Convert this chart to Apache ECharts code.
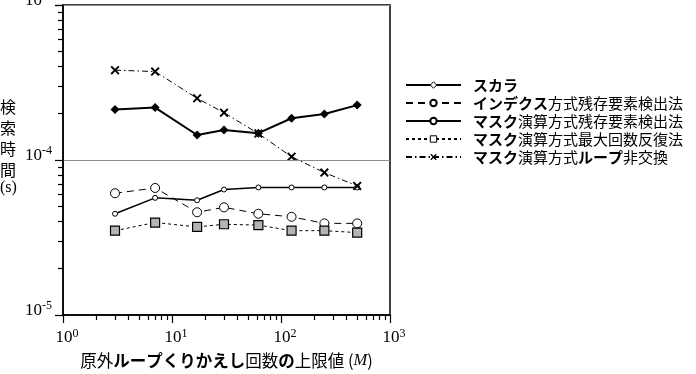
<!DOCTYPE html>
<html>
<head>
<meta charset="utf-8">
<script src="https://cdn.jsdelivr.net/npm/echarts@6/dist/echarts.min.js"></script>
<style>
  html, body { margin: 0; padding: 0; background: #fff; }
  #chart { width: 696px; height: 374px; }
</style>
</head>
<body>
<div id="chart"></div>
<script>
// values (log-log)
const xValues = [3, 7, 17, 30, 62, 125, 250, 500];
const scalar = [2.12e-4, 2.18e-4, 1.45e-4, 1.56e-4, 1.49e-4, 1.86e-4, 1.98e-4, 2.26e-4];
const indexRemain = [6.1e-5, 6.6e-5, 4.6e-5, 4.95e-5, 4.5e-5, 4.3e-5, 3.9e-5, 3.9e-5];
const maskRemain = [4.5e-5, 5.7e-5, 5.5e-5, 6.45e-5, 6.65e-5, 6.65e-5, 6.65e-5, 6.65e-5];
const maskMax = [3.5e-5, 3.95e-5, 3.7e-5, 3.85e-5, 3.8e-5, 3.5e-5, 3.5e-5, 3.4e-5];
const maskNoSwap = [3.8e-4, 3.72e-4, 2.5e-4, 2.02e-4, 1.48e-4, 1.05e-4, 8.3e-5, 6.8e-5];

const seriesNames = [
  'スカラ',
  'インデクス方式残存要素検出法',
  'マスク演算方式残存要素検出法',
  'マスク演算方式最大回数反復法',
  'マスク演算方式ループ非交換'
];

const CJK = "'Noto Sans CJK JP', sans-serif";
const SERIF = "'Liberation Serif', serif";
const X_MARK = 'path://M0,1.5L1.5,0L5,3.5L8.5,0L10,1.5L6.5,5L10,8.5L8.5,10L5,6.5L1.5,10L0,8.5L3.5,5Z';

var myChart = echarts.init(document.getElementById('chart'));

function pairs(arr) {
  return xValues.map((x, i) => [x, arr[i]]);
}

// katakana runs are set in bold
function boldKana(s) {
  return s.replace(/([ァ-ヶー]+)/g, '{b|$1}');
}

function powLabel(v) {
  const e = Math.round(Math.log10(v));
  return '{n|10}{s|' + e + '}';
}

const tickStyle = { color: '#000', width: 1.2 };

const option = {
  animation: false,
  grid: {
    left: 63, right: 306, top: 5, bottom: 59,
    outerBoundsMode: 'none', containLabel: false,
    show: true, borderColor: '#000', borderWidth: 1.5
  },
  xAxis: {
    type: 'log', logBase: 10, min: 1, max: 1000,
    zlevel: 1,
    axisLine: { show: true, lineStyle: { color: '#000', width: 1.5 } },
    axisTick: { show: true, length: 8, lineStyle: tickStyle },
    minorTick: { show: true, splitNumber: 9, length: 5, lineStyle: tickStyle },
    splitLine: { show: false },
    axisLabel: {
      margin: 13, formatter: powLabel, fontFamily: SERIF, fontSize: 17, color: '#000',
      rich: {
        n: { fontSize: 17, padding: [0, 0, 0, 8] },
        s: { fontSize: 12, verticalAlign: 'bottom', padding: [0, 0, 8, 0] }
      }
    },
    name: '原外{b|ループくりかえし}回数{b|の}上限値 ({i|M})',
    nameLocation: 'middle', nameGap: 37,
    nameTextStyle: {
      fontFamily: CJK, fontSize: 16.5, color: '#000',
      rich: {
        b: { fontSize: 16.5, fontWeight: 'bold' },
        i: { fontFamily: SERIF, fontSize: 16.5, fontStyle: 'italic' }
      }
    }
  },
  yAxis: {
    type: 'log', logBase: 10, min: 1e-5, max: 1e-3,
    zlevel: 2,
    axisLine: { show: true, lineStyle: { color: '#000', width: 1.5 } },
    axisTick: { show: true, length: 8, lineStyle: tickStyle },
    minorTick: { show: true, splitNumber: 9, length: 5, lineStyle: tickStyle },
    // grey line at 10^-4 only
    splitLine: {
      show: true, showMinLine: false, showMaxLine: false,
      lineStyle: { color: '#8c8c8c', width: 1.2, type: 'solid' }
    },
    axisLabel: {
      margin: 11, formatter: powLabel, fontFamily: SERIF, fontSize: 17, color: '#000',
      rich: {
        n: { fontSize: 17, verticalAlign: 'bottom', padding: [0, 0, 11, 0] },
        s: { fontSize: 12, verticalAlign: 'bottom', padding: [0, 0, 19, 0] }
      }
    }
  },
  legend: {
    orient: 'vertical', left: 400, top: 71,
    itemWidth: 55, itemHeight: 8, itemGap: 0,
    selectedMode: false,
    formatter: boldKana,
    textStyle: {
      fontFamily: CJK, fontSize: 15, color: '#000', lineHeight: 18,
      padding: [0, 0, 0, 7],
      rich: { b: { fontSize: 15, fontWeight: 'bold', lineHeight: 18 } }
    },
    data: [
      { name: seriesNames[0], itemStyle: { color: '#fff', borderColor: '#000', borderWidth: 1 } },
      { name: seriesNames[1] },
      { name: seriesNames[2] },
      { name: seriesNames[3], itemStyle: { color: '#fff', borderColor: '#000', borderWidth: 1 } },
      { name: seriesNames[4] }
    ]
  },
  graphic: [
    {
      type: 'text', left: 0, top: 96,
      style: {
        text: '検\n索\n時\n間',
        font: "16px 'Noto Sans CJK JP'", lineHeight: 21, fill: '#000'
      }
    },
    {
      type: 'text', left: 0, top: 180,
      style: {
        text: '(s)',
        font: "16px 'Liberation Serif'", fill: '#000'
      }
    }
  ],
  series: [
    {
      name: seriesNames[0], type: 'line', data: pairs(scalar),
      symbol: 'diamond', symbolSize: 9,
      itemStyle: { color: '#000' },
      lineStyle: { color: '#000', width: 2 }
    },
    {
      name: seriesNames[1], type: 'line', data: pairs(indexRemain),
      symbol: 'circle', symbolSize: 9,
      itemStyle: { color: '#fff', borderColor: '#000', borderWidth: 1 },
      lineStyle: { color: '#000', width: 1, type: [7, 5] }
    },
    {
      name: seriesNames[2], type: 'line', data: pairs(maskRemain),
      symbol: 'circle', symbolSize: 5,
      itemStyle: { color: '#fff', borderColor: '#000', borderWidth: 1 },
      lineStyle: { color: '#000', width: 1.5 }
    },
    {
      name: seriesNames[3], type: 'line', data: pairs(maskMax),
      symbol: 'rect', symbolSize: 9,
      itemStyle: { color: '#b4b4b4', borderColor: '#000', borderWidth: 1.2 },
      lineStyle: { color: '#000', width: 1, type: [3, 3] }
    },
    {
      name: seriesNames[4], type: 'line', data: pairs(maskNoSwap),
      symbol: X_MARK, symbolSize: 9, z: 3,
      itemStyle: { color: '#000' },
      lineStyle: { color: '#000', width: 1, type: [6, 3, 1.5, 3] }
    }
  ]
};

myChart.setOption(option);
</script>
</body>
</html>
